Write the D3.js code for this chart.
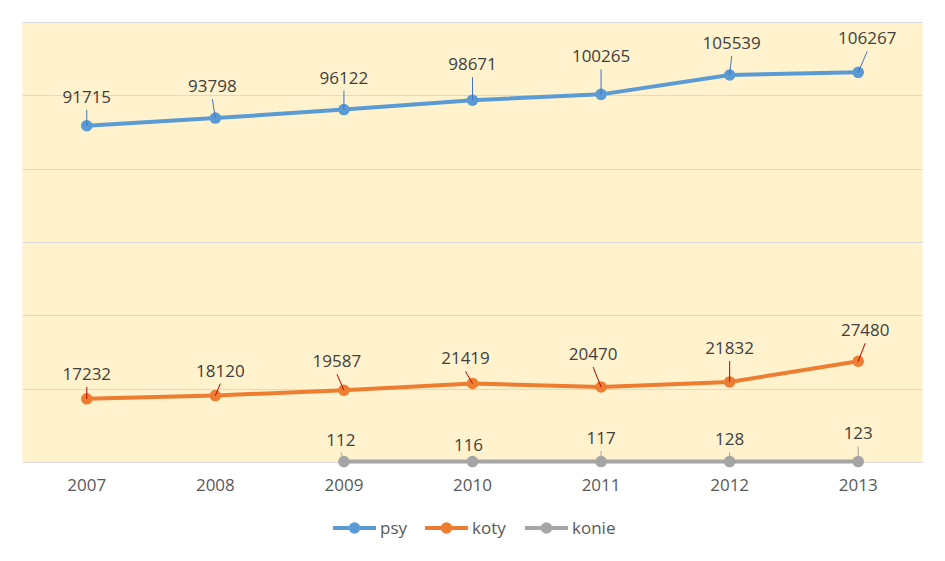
<!DOCTYPE html>
<html><head><meta charset="utf-8">
<script src="https://cdn.jsdelivr.net/npm/d3@7/dist/d3.min.js"></script>
<style>body{margin:0;background:#fff}svg{display:block}text{font-family:"Open Sans",sans-serif}</style>
</head><body>
<svg id="c" width="945" height="561"></svg>
<script>
const years = ["2007","2008","2009","2010","2011","2012","2013"];
const psy   = [91715, 93798, 96122, 98671, 100265, 105539, 106267];
const koty  = [17232, 18120, 19587, 21419, 20470, 21832, 27480];
const konie = [null, null, 112, 116, 117, 128, 123];
const seriesNames = ["psy","koty","konie"];
const yTicks = [0, 20000, 40000, 60000, 80000, 100000, 120000];

// label placement (pixel offsets from each point), layout only
const labelOffsets = {
  psy:   [[0,-29],[-3,-32],[0,-32],[0,-36],[0,-38],[2,-32],[9,-34]],
  koty:  [[0,-25],[5,-25],[-7,-29],[-7,-25],[-8,-33],[0,-34],[7,-31]],
  konie: [null,null,[-3,-22],[-4,-17],[0,-23.5],[0,-22],[0,-28]]
};
const colors = {psy:"#5B9BD5", koty:"#ED7D31", konie:"#A5A5A5"};
const leaderColors = {psy:"#4472C4", koty:"#C00000", konie:"#A5A5A5"};

const svg = d3.select("#c");
const L = 22.5, R = 922.5, T = 22, B = 462;
const x = d3.scaleBand().domain(years).range([L, R]);
const y = d3.scaleLinear().domain([0, 120000]).range([B, T]);

svg.append("rect").attr("x", L).attr("y", T).attr("width", R-L).attr("height", B-T).attr("fill", "#FFF2CC");

svg.append("g").selectAll("line").data(yTicks).join("line")
  .attr("x1", L).attr("x2", R)
  .attr("y1", d => Math.round(y(d)) + 0.5).attr("y2", d => Math.round(y(d)) + 0.5)
  .attr("stroke", "#D9D9D9").attr("stroke-width", 1);

const xAxis = svg.append("g").attr("transform", `translate(0,${B})`)
  .call(d3.axisBottom(x).tickSize(0).tickPadding(17));
xAxis.select(".domain").remove();
xAxis.selectAll("text").attr("font-size", 17).attr("fill", "#595959")
  .attr("font-family", '"Open Sans",sans-serif');

const data = {psy, koty, konie};
const cx = d => x(d) + x.bandwidth()/2;

seriesNames.forEach(name => {
  const vals = data[name];
  const pts = years.map((yr, i) => ({yr, v: vals[i], i})).filter(p => p.v != null);
  const line = d3.line().x(p => cx(p.yr)).y(p => y(p.v));
  svg.append("path").datum(pts).attr("d", line)
    .attr("fill", "none").attr("stroke", colors[name]).attr("stroke-width", 4)
    .attr("stroke-linejoin", "round");
  svg.append("g").selectAll("circle").data(pts).join("circle")
    .attr("cx", p => cx(p.yr)).attr("cy", p => y(p.v)).attr("r", 5.8)
    .attr("fill", colors[name]);
  const g = svg.append("g");
  pts.forEach(p => {
    const [dx, dy] = labelOffsets[name][p.i];
    const px = cx(p.yr), py = y(p.v);
    const lx = px + dx, ly = py + dy;
    const sy = ly + 13;
    if (py - sy > 4) {
      g.append("line").attr("x1", lx).attr("y1", sy).attr("x2", px).attr("y2", py)
        .attr("stroke", leaderColors[name]).attr("stroke-width", 1);
    }
    g.append("text").attr("x", lx).attr("y", ly).attr("dy", "0.35em")
      .attr("text-anchor", "middle").attr("font-size", 17).attr("fill", "#404040")
      .text(p.v);
  });
});

// legend
const legend = svg.append("g");
const legX = [333, 425, 525];
seriesNames.forEach((name, i) => {
  const lg = legend.append("g").attr("transform", `translate(${legX[i]},528)`);
  lg.append("line").attr("x1", 0).attr("x2", 43).attr("stroke", colors[name]).attr("stroke-width", 4);
  lg.append("circle").attr("cx", 21.5).attr("r", 5.8).attr("fill", colors[name]);
  lg.append("text").attr("x", 47).attr("dy", "0.35em").attr("font-size", 17).attr("fill", "#595959").text(name);
});
</script>
</body></html>
